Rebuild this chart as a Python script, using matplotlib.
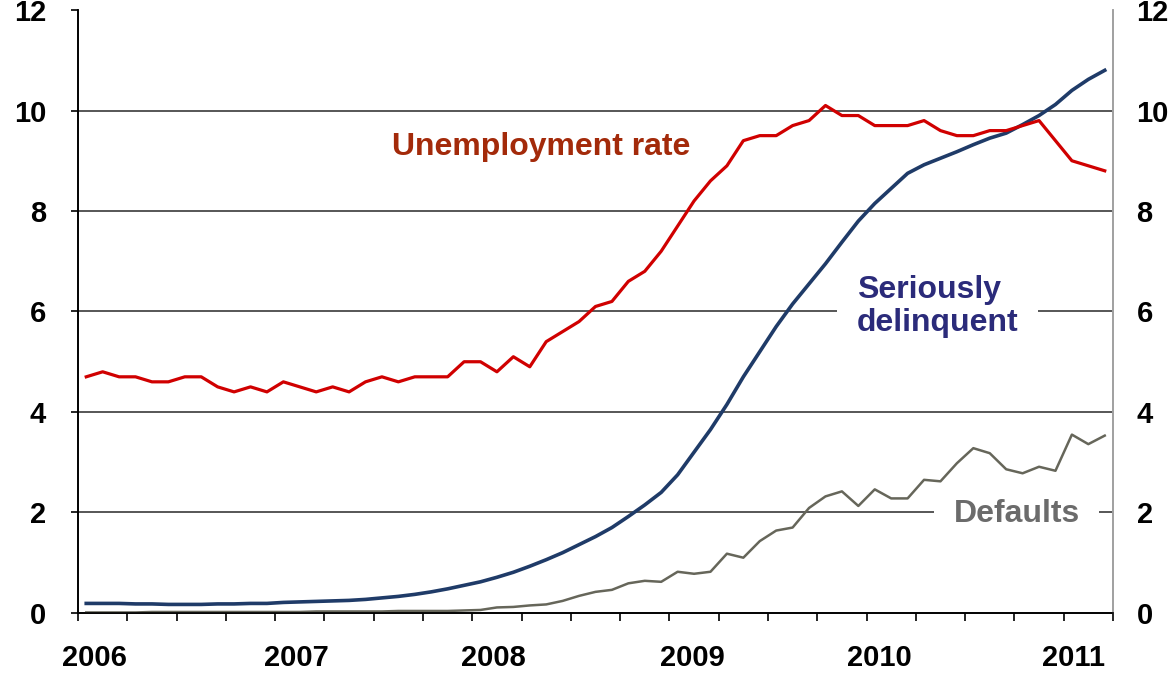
import numpy as np
import matplotlib.pyplot as plt

plt.rcParams['font.family'] = ['Liberation Sans', 'DejaVu Sans']
plt.rcParams['font.weight'] = 'bold'

# monthly values, Jan 2006 - Mar 2011
unemployment = [4.7, 4.8, 4.7, 4.7, 4.6, 4.6, 4.7, 4.7, 4.5, 4.4, 4.5, 4.4,
                4.6, 4.5, 4.4, 4.5, 4.4, 4.6, 4.7, 4.6, 4.7, 4.7, 4.7, 5.0,
                5.0, 4.8, 5.1, 4.9, 5.4, 5.6, 5.8, 6.1, 6.2, 6.6, 6.8, 7.2,
                7.7, 8.2, 8.6, 8.9, 9.4, 9.5, 9.5, 9.7, 9.8, 10.1, 9.9, 9.9,
                9.7, 9.7, 9.7, 9.8, 9.6, 9.5, 9.5, 9.6, 9.6, 9.7, 9.8, 9.4,
                9.0, 8.9, 8.8]
delinquent = [0.19, 0.19, 0.19, 0.18, 0.18, 0.17, 0.17, 0.17, 0.18, 0.18, 0.19, 0.19,
              0.21, 0.22, 0.23, 0.24, 0.25, 0.27, 0.30, 0.33, 0.37, 0.42, 0.48, 0.55,
              0.62, 0.71, 0.81, 0.93, 1.06, 1.20, 1.36, 1.52, 1.70, 1.92, 2.15, 2.40,
              2.75, 3.20, 3.65, 4.15, 4.70, 5.20, 5.70, 6.15, 6.55, 6.95, 7.38, 7.80,
              8.15, 8.45, 8.75, 8.92, 9.05, 9.18, 9.32, 9.45, 9.55, 9.72, 9.90, 10.12,
              10.40, 10.62, 10.80]
defaults = [0.01, 0.01, 0.01, 0.01, 0.02, 0.02, 0.02, 0.02, 0.02, 0.02, 0.02, 0.02,
            0.02, 0.02, 0.03, 0.03, 0.03, 0.03, 0.03, 0.04, 0.04, 0.04, 0.04, 0.05,
            0.06, 0.11, 0.12, 0.15, 0.17, 0.24, 0.34, 0.42, 0.46, 0.59, 0.64, 0.62,
            0.82, 0.78, 0.82, 1.18, 1.10, 1.43, 1.64, 1.70, 2.09, 2.32, 2.42, 2.13,
            2.46, 2.28, 2.28, 2.65, 2.62, 2.98, 3.28, 3.18, 2.86, 2.78, 2.91, 2.83,
            3.55, 3.36, 3.53]
years = ['2006', '2007', '2008', '2009', '2010', '2011']
year_pos = [0.5, 12.8, 24.8, 36.9, 48.3, 60.1]
y_ticks = [0, 2, 4, 6, 8, 10, 12]

x = np.arange(len(unemployment))

fig = plt.figure(figsize=(11.75, 6.73), dpi=100)
ax = fig.add_axes([0.0664, 0.0892, 0.8808, 0.8959])

for v in y_ticks[1:-1]:
    ax.axhline(v, color='#3a3a3a', lw=1.2, zorder=1)

ax.plot(x, defaults, color='#66665a', lw=1.8, zorder=4)
ax.plot(x, delinquent, color='#1f3b68', lw=2.6, zorder=4)
ax.plot(x, unemployment, color='#d00000', lw=2.3, zorder=5)

ax.text(27.7, 9.28, 'Unemployment rate', color='#a32a0a', fontsize=23,
        fontweight='bold', ha='center', va='center', zorder=3)
ax.text(46.9, 6.1, 'Seriously\ndelinquent', color='#2b2b7a', fontsize=23,
        fontweight='bold', ha='left', va='center', linespacing=1.1, zorder=3,
        bbox=dict(facecolor='white', edgecolor='none', pad=14))
ax.text(52.8, 1.97, 'Defaults', color='#6b6b6b', fontsize=23,
        fontweight='bold', ha='left', va='center', zorder=3,
        bbox=dict(facecolor='white', edgecolor='none', pad=14))

ax.set_xlim(-0.5, len(x) - 0.5)
ax.set_ylim(0, 12)
ax.set_xticks(np.arange(-0.5, len(x), 3))
ax.set_xticklabels([])
ax.set_xticks(year_pos, minor=True)
ax.set_xticklabels(years, minor=True, fontsize=21, fontweight='bold')
ax.tick_params(axis='x', which='major', length=6, width=1.2, direction='out')
ax.tick_params(axis='x', which='minor', length=0, pad=22)

ax.set_yticks(y_ticks)
ax.set_yticklabels([str(v) for v in y_ticks], fontsize=21, fontweight='bold')
ax.tick_params(axis='y', length=5, width=1.2, pad=18)

ax2 = ax.twinx()
ax2.set_ylim(0, 12)
ax2.set_yticks(y_ticks)
ax2.set_yticklabels([str(v) for v in y_ticks], fontsize=21, fontweight='bold')
ax2.tick_params(axis='y', length=0, pad=17)

for a in (ax, ax2):
    a.spines['top'].set_visible(False)
    a.spines['left'].set_linewidth(1.2)
    a.spines['bottom'].set_linewidth(1.2)
    a.spines['right'].set_color('#a0a0a0')
    a.spines['right'].set_linewidth(1.2)

fig.savefig('out.png', dpi=100)
